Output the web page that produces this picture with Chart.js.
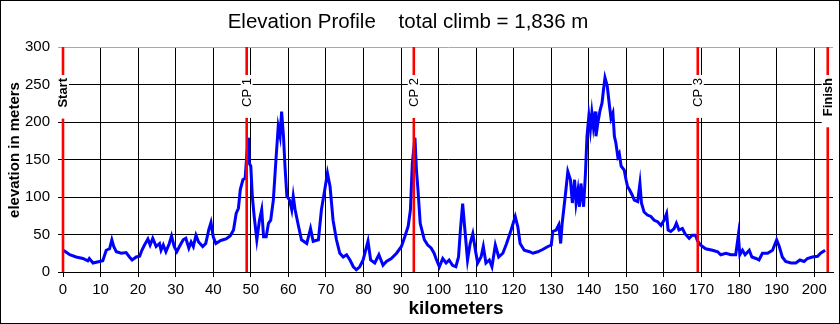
<!DOCTYPE html>
<html><head><meta charset="utf-8">
<script src="https://cdn.jsdelivr.net/npm/chart.js@4.4.1/dist/chart.umd.min.js"></script>
<style>html,body{margin:0;padding:0;background:#fff;overflow:hidden}#wrap{width:840px;height:324px;position:relative}</style>
</head><body><div id="wrap"><canvas id="c" width="840" height="324"></canvas></div>
<script>
const kilometers = [0,0.4,1.8,3.5,5.3,6.6,7,8,9.7,10.6,11.5,12.4,13,13.5,14.2,15.5,16.8,17.7,18.4,19.5,20.4,21,21.7,22.6,23.2,23.9,24.8,25.7,26.1,26.7,27.4,28.3,28.9,29.6,30.3,31,32,32.7,33.5,34.1,34.7,35.4,36.1,37.2,38,38.8,39.4,40,40.7,42,43.4,44.5,45.4,46.1,46.7,47.2,47.9,48.5,48.9,49.4,49.6,50,50.4,50.9,51.6,52.3,52.9,53.4,54.1,54.7,55.3,56,56.7,57.3,57.8,58.2,58.7,59.1,59.6,60.3,60.9,61.3,61.8,62.7,63.5,64.9,65.9,66.6,68,68.8,69.7,70.4,71.1,71.9,72.8,73.7,74.6,75.5,76.4,77.3,78.1,79,79.9,81.2,81.9,83,84.1,85.2,86.1,87.4,88.8,90.1,91,91.9,92.5,93,93.7,94.1,94.5,95.1,96.2,97.1,98,98.8,99.3,100.2,101.1,102,102.8,103.7,104.6,105.3,105.8,106.4,107,107.7,108.4,109.1,109.8,110.4,111.3,111.9,112.6,113.5,114.2,115.1,116,117.1,118.1,119.3,120.4,121.1,121.7,122.8,124.2,125.1,126.4,127.7,129.1,130,130.4,131.3,132,132.5,132.9,133.8,134.4,135.1,135.6,136.2,136.6,137.1,137.5,137.9,138.6,139.1,139.5,140,140.4,140.8,141.2,141.7,141.9,142.4,143,143.5,143.9,144.3,144.9,145.5,145.9,146.4,146.8,147.2,147.7,148.1,148.6,149.4,149.9,150.3,150.9,151.5,152.1,153,153.6,154,154.7,155.6,156.5,157.4,158.3,159.2,160,160.7,161.1,161.8,162.7,163.3,164,164.9,165.6,166.7,167.5,168.4,168.9,169.7,171.1,172.9,174.3,175.1,176.5,177.8,179.1,179.8,180.2,180.9,181.6,182.7,183.4,184.5,185.3,186.2,187.6,188.9,190,190.7,191.5,192.4,193.8,195.1,196.2,197.3,198.2,199.5,200.9,201.7,202.9];
const elevation = [27,28,23,20,18,15,18,12,14,15,29,31,43,34,27,25,26,20,16,20,21,29,36,44,36,45,34,38,29,36,27,38,48,34,27,34,43,45,32,40,34,49,40,34,38,56,66,47,38,42,44,48,56,78,85,110,123,125,154,179,145,141,101,74,43,69,83,47,47,65,69,96,150,194,181,214,181,141,101,96,83,101,83,61,43,38,58,41,43,83,110,132,114,69,43,25,20,23,16,7,3,7,16,41,16,12,23,9,14,18,25,34,47,61,83,145,179,136,110,65,43,36,32,25,18,7,18,12,16,9,7,20,56,91,56,16,38,51,29,12,20,34,12,16,7,36,20,25,38,56,74,60,38,29,27,25,27,30,34,36,54,56,63,38,65,105,134,123,92,123,92,109,87,118,87,132,181,208,190,212,194,214,181,199,216,225,243,259,248,221,205,212,181,172,154,158,141,136,123,114,109,103,96,94,118,92,80,76,74,69,67,62,69,78,56,54,58,65,56,58,51,45,49,49,42,36,31,29,27,23,25,23,23,49,23,29,23,29,20,18,16,25,25,29,43,34,20,14,12,12,16,14,18,20,21,25,29];
const checkpointKm = [0, 48.9, 93.4, 169.0, 203.6];
const checkpointLabels = ['Start', 'CP 1', 'CP 2', 'CP 3', 'Finish'];
const checkpointBold = [true, false, false, false, true];
const xRange = [0, 205];
const yRange = [0, 300];
const xTickStep = 10;
const yTickStep = 50;
const titleText = 'Elevation Profile    total climb = 1,836 m';
const xAxisTitle = 'kilometers';
const yAxisTitle = 'elevation in meters';

const FONT = '"Liberation Sans", Arial, sans-serif';
const profilePoints = kilometers.map((k, i) => ({x: k, y: elevation[i]}));
const cpDatasets = checkpointKm.map((k, i) => ({
  label: checkpointLabels[i],
  data: [{x: k, y: yRange[0]}, {x: k, y: yRange[1]}],
  showLine: true, borderColor: '#FF0000', borderWidth: 2.6,
  pointRadius: 0, clip: false
}));

const decor = {
  id: 'decor',
  beforeDraw(chart) {
    const ctx = chart.ctx;
    ctx.save(); ctx.fillStyle = '#fff'; ctx.fillRect(0, 0, chart.width, chart.height); ctx.restore();
  },
  afterDatasetsDraw(chart) {
    const ctx = chart.ctx, xs = chart.scales.x;
    ctx.save();
    checkpointKm.forEach((k, i) => {
      const px = xs.getPixelForValue(k);
      ctx.font = (checkpointBold[i] ? 'bold ' : '') + '13px ' + FONT;
      const w = ctx.measureText(checkpointLabels[i]).width;
      const top = 78;
      ctx.fillStyle = '#fff';
      ctx.fillRect(px - 6, top - 3, 12, w + 14);
      ctx.translate(px + 0.5, top);
      ctx.rotate(-Math.PI / 2);
      ctx.fillStyle = '#000';
      ctx.textAlign = 'right';
      ctx.textBaseline = 'middle';
      ctx.fillText(checkpointLabels[i], 0, 0);
      ctx.setTransform(1, 0, 0, 1, 0, 0);
    });
    ctx.restore();
  },
  afterDraw(chart) {
    const ctx = chart.ctx;
    ctx.save();
    ctx.fillStyle = '#000';
    ctx.textAlign = 'center'; ctx.textBaseline = 'middle';
    ctx.font = '20.5px ' + FONT;
    ctx.fillText(titleText, 408, 22);
    ctx.font = 'bold 19px ' + FONT;
    ctx.fillText(xAxisTitle, 456, 309);
    ctx.translate(15, 150); ctx.rotate(-Math.PI / 2);
    ctx.font = 'bold 15px ' + FONT;
    ctx.fillText(yAxisTitle, 0, 0);
    ctx.setTransform(1, 0, 0, 1, 0, 0);
    ctx.strokeStyle = '#000'; ctx.lineWidth = 1;
    ctx.strokeRect(0.5, 0.5, chart.width - 1, chart.height - 1);
    ctx.restore();
  }
};

new Chart(document.getElementById('c'), {
  type: 'scatter',
  data: {
    datasets: [...cpDatasets, {
      label: 'Elevation', data: profilePoints, showLine: true,
      borderColor: '#0000FF', borderWidth: 3, pointRadius: 0, tension: 0
    }]
  },
  options: {
    responsive: false, animation: false, devicePixelRatio: 1,
    layout: {padding: {top: 47, right: 7, left: 0, bottom: 0}},
    plugins: {legend: {display: false}, tooltip: {enabled: false}, title: {display: false}},
    scales: {
      x: {
        type: 'linear', min: xRange[0], max: xRange[1],
        ticks: {stepSize: xTickStep, includeBounds: false, color: '#000', font: {size: 15, family: FONT}, padding: 4, maxRotation: 0, autoSkip: false},
        grid: {color: '#000', lineWidth: 1, tickLength: 5, drawTicks: true},
        border: {color: '#000', width: 1},
        afterFit(s) { s.height = 52; }
      },
      y: {
        min: yRange[0], max: yRange[1],
        ticks: {stepSize: yTickStep, color: '#000', font: {size: 15, family: FONT}, padding: 8},
        grid: {color: c => (c.tick && c.tick.value === yRange[1]) ? '#aaa' : '#000', lineWidth: 1, tickLength: 5},
        border: {color: '#000', width: 1},
        afterFit(s) { s.width = 63; }
      }
    }
  },
  plugins: [decor]
});
</script></body></html>
